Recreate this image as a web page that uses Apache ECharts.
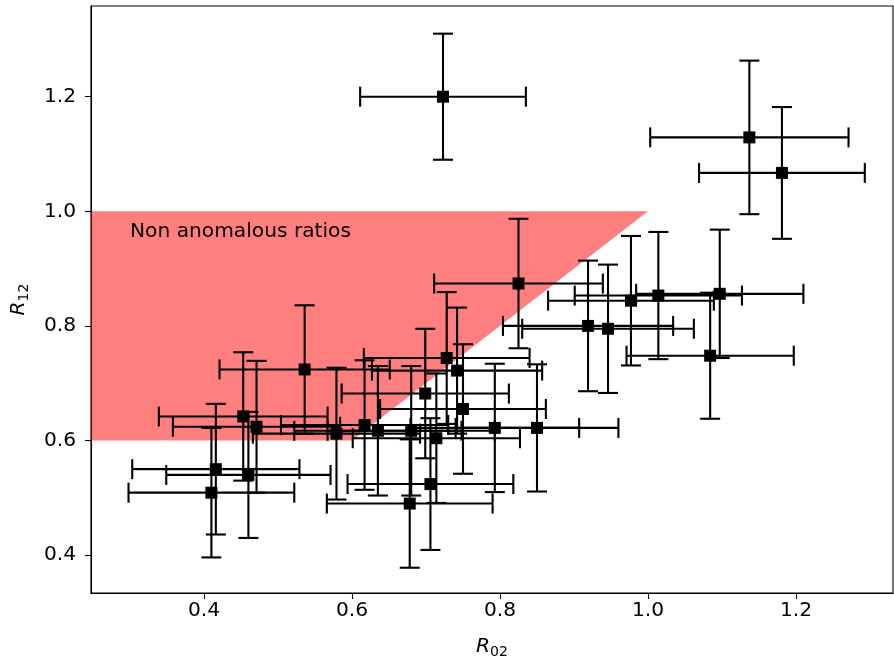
<!DOCTYPE html>
<html>
<head>
<meta charset="utf-8">
<script src="https://cdn.jsdelivr.net/npm/echarts@6/dist/echarts.min.js"></script>
<style>
html,body{margin:0;padding:0;background:#fff;}
#chart{width:894px;height:664px;}
</style>
</head>
<body>
<div id="chart"></div>
<script>
// ---- data ----
const xs   = [0.723, 1.137, 1.181, 1.097, 1.084, 1.014, 0.977, 0.919, 0.946, 0.825, 0.728, 0.742, 0.699, 0.793, 0.750, 0.850, 0.579, 0.617, 0.635, 0.680, 0.714, 0.706, 0.678, 0.536, 0.453, 0.471, 0.416, 0.460, 0.410];
const ys   = [1.200, 1.129, 1.067, 0.856, 0.748, 0.853, 0.844, 0.800, 0.795, 0.874, 0.744, 0.722, 0.682, 0.622, 0.655, 0.622, 0.612, 0.627, 0.617, 0.617, 0.604, 0.524, 0.490, 0.724, 0.642, 0.624, 0.550, 0.540, 0.509];
const xerr = [0.112, 0.134, 0.112, 0.113, 0.113, 0.113, 0.112, 0.115, 0.116, 0.114, 0.112, 0.115, 0.113, 0.114, 0.112, 0.110, 0.113, 0.113, 0.113, 0.113, 0.113, 0.112, 0.112, 0.115, 0.114, 0.113, 0.113, 0.111, 0.112];
const yerr = [0.110, 0.134, 0.115, 0.112, 0.110, 0.111, 0.113, 0.114, 0.112, 0.113, 0.115, 0.110, 0.113, 0.112, 0.113, 0.111, 0.115, 0.113, 0.113, 0.113, 0.113, 0.115, 0.112, 0.112, 0.112, 0.115, 0.114, 0.110, 0.113];
const regionX = [0.2, 1.0, 0.6, 0.2];
const regionY = [1.0, 1.0, 0.6, 0.6];
const regionLabel = 'Non anomalous ratios';
const regionLabelPos = [0.3, 0.95];
const xTicks = [0.4, 0.6, 0.8, 1.0, 1.2];
const yTicks = [0.4, 0.6, 0.8, 1.0, 1.2];
const xRange = [0.2473, 1.3311];
const yRange = [0.3339, 1.3583];

const FONT = 'DejaVu Sans';
const FS = 20.2;
const chart = echarts.init(document.getElementById('chart'), null, {renderer: 'canvas'});

const points = xs.map((x, i) => [x, ys[i], xerr[i], yerr[i]]);
const CAP = 10;

function renderErr(params, api) {
  const x = api.value(0), y = api.value(1), ex = api.value(2), ey = api.value(3);
  const l = api.coord([x - ex, y]), r = api.coord([x + ex, y]);
  const t = api.coord([x, y + ey]), b = api.coord([x, y - ey]);
  const st = {stroke: '#000', lineWidth: 2.1};
  return {
    type: 'group',
    children: [
      {type: 'line', shape: {x1: l[0], y1: l[1], x2: r[0], y2: r[1]}, style: st},
      {type: 'line', shape: {x1: t[0], y1: t[1], x2: b[0], y2: b[1]}, style: st},
      {type: 'line', shape: {x1: l[0], y1: l[1] - CAP, x2: l[0], y2: l[1] + CAP}, style: st},
      {type: 'line', shape: {x1: r[0], y1: r[1] - CAP, x2: r[0], y2: r[1] + CAP}, style: st},
      {type: 'line', shape: {x1: t[0] - CAP, y1: t[1], x2: t[0] + CAP, y2: t[1]}, style: st},
      {type: 'line', shape: {x1: b[0] - CAP, y1: b[1], x2: b[0] + CAP, y2: b[1]}, style: st}
    ]
  };
}

function renderRegion(params, api) {
  if (params.dataIndex !== 0) return;
  const pts = regionX.map((x, i) => api.coord([x, regionY[i]]));
  const lp = api.coord(regionLabelPos);
  return {
    type: 'group',
    children: [
      {type: 'polygon', shape: {points: pts}, style: {fill: 'rgba(255,0,0,0.5)'}},
      {type: 'text', x: lp[0], y: lp[1] + 2, style: {text: regionLabel, fill: '#000', font: FS + 'px "' + FONT + '"', textAlign: 'left', textVerticalAlign: 'bottom'}}
    ]
  };
}

const axisCommon = {
  type: 'value',
  splitLine: {show: false},
  axisLine: {show: true, onZero: false, lineStyle: {color: '#000', width: 1.1}},
  axisTick: {show: true, inside: false, length: 6, lineStyle: {color: '#000', width: 1.1}},
  nameLocation: 'middle'
};

chart.setOption({
  backgroundColor: '#fff',
  animation: false,
  grid: {left: 91, right: 1, top: 6, bottom: 69, show: true, borderColor: '#000', borderWidth: 1.1, containLabel: false},
  xAxis: Object.assign({}, axisCommon, {
    min: xRange[0], max: xRange[1],
    axisTick: Object.assign({}, axisCommon.axisTick, {customValues: xTicks}),
    axisLabel: {customValues: xTicks, formatter: v => v.toFixed(1), color: '#000', fontFamily: FONT, fontSize: FS, margin: 8},
    name: '{i|R}{s|02}', nameGap: 42,
    nameTextStyle: {rich: {i: {fontStyle: 'italic', fontFamily: FONT, fontSize: FS, color: '#000'}, s: {fontFamily: FONT, fontSize: 14, color: '#000', padding: [10, 0, 0, 0]}}}
  }),
  yAxis: Object.assign({}, axisCommon, {
    min: yRange[0], max: yRange[1],
    axisTick: Object.assign({}, axisCommon.axisTick, {customValues: yTicks}),
    axisLabel: {customValues: yTicks, formatter: v => v.toFixed(1), color: '#000', fontFamily: FONT, fontSize: FS, margin: 15},
    name: '{i|R}{s|12}', nameGap: 60,
    nameTextStyle: {rich: {i: {fontStyle: 'italic', fontFamily: FONT, fontSize: FS, color: '#000'}, s: {fontFamily: FONT, fontSize: 14, color: '#000', padding: [10, 0, 0, 0]}}}
  }),
  series: [
    {type: 'custom', renderItem: renderRegion, data: [[0, 0]], clip: true, silent: true, z: 1},
    {type: 'custom', renderItem: renderErr, data: points, clip: true, silent: true, z: 2},
    {type: 'scatter', data: points.map(p => [p[0], p[1]]), symbol: 'rect', symbolSize: 12, itemStyle: {color: '#000', opacity: 1}, silent: true, z: 3}
  ]
});
</script>
</body>
</html>
